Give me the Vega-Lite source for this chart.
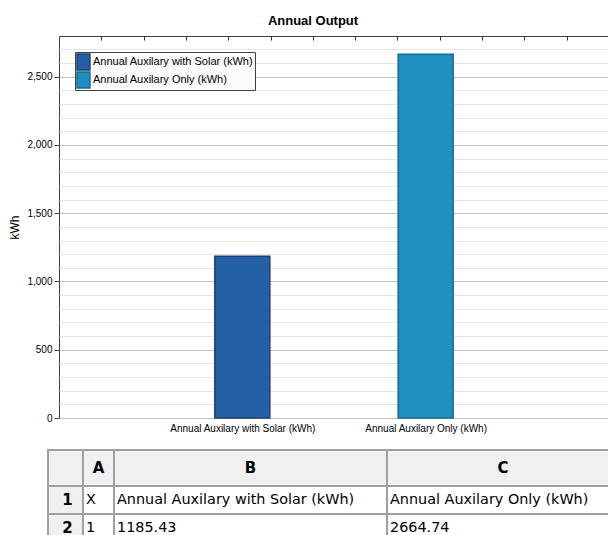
{
  "$schema": "https://vega.github.io/schema/vega-lite/v6.json",
  "padding": {"left": 8, "top": 14, "right": 0, "bottom": 0},
  "background": "white",
  "bounds": "flush",
  "spacing": 32,
  "config": {"view": {"stroke": null}, "font": "Liberation Sans"},
  "datasets": {
    "bars": [
      {"series": "Annual Auxilary with Solar (kWh)", "kwh": 1185.43},
      {"series": "Annual Auxilary Only (kWh)", "kwh": 2664.74}
    ],
    "cells": [
      {"r": "h", "c": "0", "t": ""},
      {"r": "h", "c": "A", "t": "A"},
      {"r": "h", "c": "B", "t": "B"},
      {"r": "h", "c": "C", "t": "C"},
      {"r": "1", "c": "0", "t": "1"},
      {"r": "1", "c": "A", "t": "X"},
      {"r": "1", "c": "B", "t": "Annual Auxilary with Solar (kWh)"},
      {"r": "1", "c": "C", "t": "Annual Auxilary Only (kWh)"},
      {"r": "2", "c": "0", "t": "2"},
      {"r": "2", "c": "A", "t": "1"},
      {"r": "2", "c": "B", "t": "1185.43"},
      {"r": "2", "c": "C", "t": "2664.74"}
    ]
  },
  "vconcat": [
    {
      "width": 550,
      "height": 382,
      "view": {"stroke": "#404040", "strokeWidth": 1},
      "title": {"text": "Annual Output", "fontSize": 13, "fontWeight": "bold", "font": "Liberation Sans", "color": "#000000", "anchor": "middle", "offset": 8, "dx": -21},
      "data": {"name": "bars"},
      "layer": [
        {
          "mark": {"type": "bar", "width": 55, "strokeWidth": 1.5},
          "encoding": {
            "x": {"field": "series", "type": "nominal", "sort": null, "scale": {"type": "point", "padding": 1},
                  "axis": {"title": null, "labelAngle": 0, "labelFontSize": 10, "labelColor": "#000000", "tickSize": -5, "tickColor": "#333333", "labelPadding": 10, "domain": false, "grid": false}},
            "y": {"field": "kwh", "type": "quantitative", "scale": {"domain": [0, 2798], "nice": false},
                  "axis": {"title": "kWh", "titleFontSize": 12, "titleFontWeight": "normal", "titleColor": "#000000", "titlePadding": 5,
                           "values": [0,100,200,300,400,500,600,700,800,900,1000,1100,1200,1300,1400,1500,1600,1700,1800,1900,2000,2100,2200,2300,2400,2500,2600,2700],
                           "format": ",d",
                           "labelExpr": "datum.value % 500 === 0 ? datum.label : ''",
                           "labelFontSize": 10, "labelColor": "#000000", "labelPadding": 2, "labelFlush": false, "labelOverlap": false,
                           "tickSize": 5, "tickColor": "#404040",
                           "tickOpacity": {"condition": {"test": "datum.value % 500 === 0", "value": 1}, "value": 0},
                           "grid": true,
                           "gridColor": {"condition": {"test": "datum.value % 500 === 0", "value": "#c0c0c0"}, "value": "#cccccc"},
                           "gridDash": {"condition": {"test": "datum.value % 500 === 0", "value": []}, "value": [1, 1]},
                           "gridWidth": 1,
                           "domain": false}},
            "fill": {"field": "series", "type": "nominal", "sort": null, "scale": {"range": ["#2360a5", "#1e90c0"]},
                     "legend": {"title": null, "orient": "top-left", "offset": 16, "fillColor": "#fbfbfb", "strokeColor": "#404040", "padding": 1, "labelFontSize": 11, "labelColor": "#000000", "labelFont": "Liberation Sans", "symbolType": "M-1,-0.94H0.52V0.94H-1Z", "symbolSize": 289, "symbolStrokeWidth": 1.5, "rowPadding": 0, "clipHeight": 18, "labelOffset": -2, "labelLimit": 300}},
            "stroke": {"field": "series", "type": "nominal", "sort": null, "scale": {"range": ["#1c3f73", "#176a93"]},
                     "legend": {"title": null, "orient": "top-left", "offset": 16, "fillColor": "#fbfbfb", "strokeColor": "#404040", "padding": 1, "labelFontSize": 11, "labelColor": "#000000", "labelFont": "Liberation Sans", "symbolType": "M-1,-0.94H0.52V0.94H-1Z", "symbolSize": 289, "symbolStrokeWidth": 1.5, "rowPadding": 0, "clipHeight": 18, "labelOffset": -2, "labelLimit": 300}}
          }
        },
        {
          "mark": {"type": "rule", "opacity": 0},
          "encoding": {
            "x": {"datum": 0, "type": "quantitative", "scale": {"domain": [0, 13], "nice": false},
                  "axis": {"orient": "top", "values": [1,2,3,4,5,6,7,8,9,10,11,12], "labels": false, "tickSize": -4, "tickColor": "#333333", "domain": false, "grid": false, "title": null}}
          }
        }
      ],
      "resolve": {"scale": {"x": "independent"}, "axis": {"x": "independent"}}
    },
    {
      "columns": 4,
      "bounds": "flush",
      "align": "each",
      "spacing": 0,
      "concat": [
        {
          "width": 24, "height": 36, "data": {"name": "cells"},
          "transform": [{"filter": "datum.r === 'h' && datum.c === '0'"}],
          "layer": [
            {"mark": {"type": "rect", "fill": "#f0f0f0", "stroke": "#a0a0a0", "strokeWidth": 2},
             "encoding": {"x": {"field": "c", "type": "nominal", "axis": null, "scale": {"paddingInner": 0, "paddingOuter": 0, "range": [-11, 24]}},
                          "y": {"field": "r", "type": "nominal", "axis": null, "sort": null, "scale": {"paddingInner": 0, "paddingOuter": 0}}}},
            {"mark": {"type": "text", "font": "DejaVu Sans", "fontSize": 15, "fontWeight": "bold", "color": "#000000"},
             "encoding": {"x": {"field": "c", "type": "nominal", "axis": null},
                          "y": {"field": "r", "type": "nominal", "axis": null, "sort": null},
                          "text": {"field": "t"}}}
          ]
        },
        {
          "width": 31, "height": 36, "data": {"name": "cells"},
          "transform": [{"filter": "datum.r === 'h' && datum.c === 'A'"}],
          "layer": [
            {"mark": {"type": "rect", "fill": "#f0f0f0", "stroke": "#a0a0a0", "strokeWidth": 2},
             "encoding": {"x": {"field": "c", "type": "nominal", "axis": null, "scale": {"paddingInner": 0, "paddingOuter": 0}},
                          "y": {"field": "r", "type": "nominal", "axis": null, "sort": null, "scale": {"paddingInner": 0, "paddingOuter": 0}}}},
            {"mark": {"type": "text", "font": "DejaVu Sans", "fontSize": 15, "fontWeight": "bold", "color": "#000000"},
             "encoding": {"x": {"field": "c", "type": "nominal", "axis": null},
                          "y": {"field": "r", "type": "nominal", "axis": null, "sort": null},
                          "text": {"field": "t"}}}
          ]
        },
        {
          "width": 273, "height": 36, "data": {"name": "cells"},
          "transform": [{"filter": "datum.r === 'h' && datum.c === 'B'"}],
          "layer": [
            {"mark": {"type": "rect", "fill": "#f0f0f0", "stroke": "#a0a0a0", "strokeWidth": 2},
             "encoding": {"x": {"field": "c", "type": "nominal", "axis": null, "scale": {"paddingInner": 0, "paddingOuter": 0}},
                          "y": {"field": "r", "type": "nominal", "axis": null, "sort": null, "scale": {"paddingInner": 0, "paddingOuter": 0}}}},
            {"mark": {"type": "text", "font": "DejaVu Sans", "fontSize": 15, "fontWeight": "bold", "color": "#000000"},
             "encoding": {"x": {"field": "c", "type": "nominal", "axis": null},
                          "y": {"field": "r", "type": "nominal", "axis": null, "sort": null},
                          "text": {"field": "t"}}}
          ]
        },
        {
          "width": 232, "height": 36, "data": {"name": "cells"},
          "transform": [{"filter": "datum.r === 'h' && datum.c === 'C'"}],
          "layer": [
            {"mark": {"type": "rect", "fill": "#f0f0f0", "stroke": "#a0a0a0", "strokeWidth": 2},
             "encoding": {"x": {"field": "c", "type": "nominal", "axis": null, "scale": {"paddingInner": 0, "paddingOuter": 0}},
                          "y": {"field": "r", "type": "nominal", "axis": null, "sort": null, "scale": {"paddingInner": 0, "paddingOuter": 0}}}},
            {"mark": {"type": "text", "font": "DejaVu Sans", "fontSize": 15, "fontWeight": "bold", "color": "#000000"},
             "encoding": {"x": {"field": "c", "type": "nominal", "axis": null},
                          "y": {"field": "r", "type": "nominal", "axis": null, "sort": null},
                          "text": {"field": "t"}}}
          ]
        },
        {
          "width": 24, "height": 56, "data": {"name": "cells"},
          "transform": [{"filter": "datum.r !== 'h' && datum.c === '0'"}],
          "layer": [
            {"mark": {"type": "rect", "fill": "#f0f0f0", "stroke": "#a0a0a0", "strokeWidth": 2},
             "encoding": {"x": {"field": "c", "type": "nominal", "axis": null, "scale": {"paddingInner": 0, "paddingOuter": 0, "range": [-11, 24]}},
                          "y": {"field": "r", "type": "nominal", "axis": null, "sort": null, "scale": {"paddingInner": 0, "paddingOuter": 0}}}},
            {"mark": {"type": "text", "font": "DejaVu Sans", "fontSize": 15, "fontWeight": "bold", "color": "#000000", "dx": 2},
             "encoding": {"x": {"field": "c", "type": "nominal", "axis": null},
                          "y": {"field": "r", "type": "nominal", "axis": null, "sort": null},
                          "text": {"field": "t"}}}
          ]
        },
        {
          "width": 31, "height": 56, "data": {"name": "cells"},
          "transform": [{"filter": "datum.r !== 'h' && datum.c === 'A'"}],
          "layer": [
            {"mark": {"type": "rect", "fill": "#ffffff", "stroke": "#a0a0a0", "strokeWidth": 2},
             "encoding": {"x": {"field": "c", "type": "nominal", "axis": null, "scale": {"paddingInner": 0, "paddingOuter": 0}},
                          "y": {"field": "r", "type": "nominal", "axis": null, "sort": null, "scale": {"paddingInner": 0, "paddingOuter": 0}}}},
            {"mark": {"type": "text", "font": "DejaVu Sans", "fontSize": 14.4, "color": "#000000", "align": "left", "dx": 3},
             "encoding": {"x": {"field": "c", "type": "nominal", "axis": null, "bandPosition": 0},
                          "y": {"field": "r", "type": "nominal", "axis": null, "sort": null},
                          "text": {"field": "t"}}}
          ]
        },
        {
          "width": 273, "height": 56, "data": {"name": "cells"},
          "transform": [{"filter": "datum.r !== 'h' && datum.c === 'B'"}],
          "layer": [
            {"mark": {"type": "rect", "fill": "#ffffff", "stroke": "#a0a0a0", "strokeWidth": 2},
             "encoding": {"x": {"field": "c", "type": "nominal", "axis": null, "scale": {"paddingInner": 0, "paddingOuter": 0}},
                          "y": {"field": "r", "type": "nominal", "axis": null, "sort": null, "scale": {"paddingInner": 0, "paddingOuter": 0}}}},
            {"mark": {"type": "text", "font": "DejaVu Sans", "fontSize": 14.4, "color": "#000000", "align": "left", "dx": 3},
             "encoding": {"x": {"field": "c", "type": "nominal", "axis": null, "bandPosition": 0},
                          "y": {"field": "r", "type": "nominal", "axis": null, "sort": null},
                          "text": {"field": "t"}}}
          ]
        },
        {
          "width": 232, "height": 56, "data": {"name": "cells"},
          "transform": [{"filter": "datum.r !== 'h' && datum.c === 'C'"}],
          "layer": [
            {"mark": {"type": "rect", "fill": "#ffffff", "stroke": "#a0a0a0", "strokeWidth": 2},
             "encoding": {"x": {"field": "c", "type": "nominal", "axis": null, "scale": {"paddingInner": 0, "paddingOuter": 0}},
                          "y": {"field": "r", "type": "nominal", "axis": null, "sort": null, "scale": {"paddingInner": 0, "paddingOuter": 0}}}},
            {"mark": {"type": "text", "font": "DejaVu Sans", "fontSize": 14.4, "color": "#000000", "align": "left", "dx": 3},
             "encoding": {"x": {"field": "c", "type": "nominal", "axis": null, "bandPosition": 0},
                          "y": {"field": "r", "type": "nominal", "axis": null, "sort": null},
                          "text": {"field": "t"}}}
          ]
        }
      ]
    }
  ]
}
